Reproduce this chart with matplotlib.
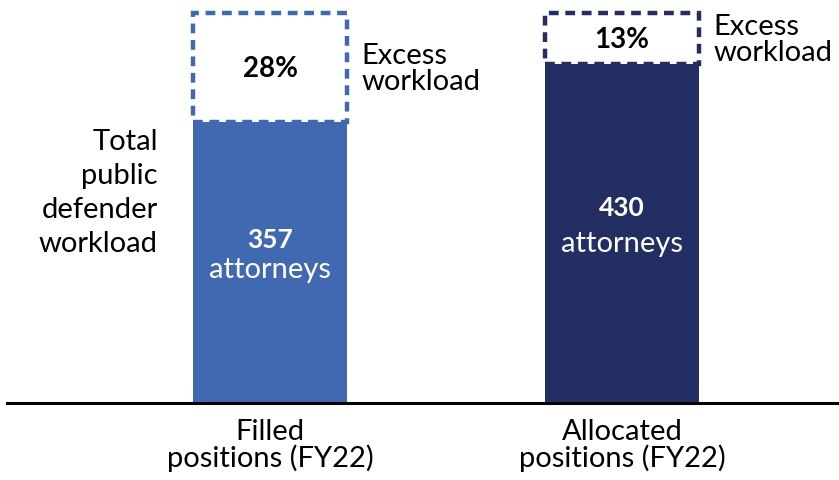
import matplotlib.pyplot as plt
from matplotlib.patches import Rectangle

# data
categories = ['Filled\npositions (FY22)', 'Allocated\npositions (FY22)']
attorneys = [357, 430]
excess_pct = ['28%', '13%']
total_workload = 495  # attorney-equivalents implied by the dashed boxes
colors = ['#4169B2', '#232F63']

plt.rcParams['font.family'] = ['Lato', 'DejaVu Sans']

fig = plt.figure(figsize=(8.39, 4.81), dpi=100)
ax = fig.add_axes([7 / 839, 77 / 481, 832 / 839, 404 / 481])

width = 0.4375
x = range(len(categories))

for i in x:
    # solid part: attorneys
    ax.bar(i, attorneys[i], width=width, color=colors[i], zorder=2)
    # dashed part: excess workload on top
    box = Rectangle((i - width / 2, attorneys[i]), width, total_workload - attorneys[i],
                    facecolor='none', edgecolor=colors[i], linewidth=3.2,
                    linestyle=(0, (2.2, 1.5)), zorder=3)
    ax.add_patch(box)
    mid = (attorneys[i] + total_workload) / 2
    ax.text(i, mid, excess_pct[i], ha='center', va='center', fontsize=20,
            fontweight='bold', color='black')
    ax.text(i + width / 2 + 0.04, mid, 'Excess\nworkload', ha='left', va='center',
            fontsize=21, linespacing=1.0, color='black')
    # inside-bar labels
    ax.text(i, attorneys[i] * 0.555, str(attorneys[i]), ha='center', va='baseline',
            fontsize=19, fontweight='bold', color='white')
    ax.text(i, attorneys[i] * 0.448, 'attorneys', ha='center', va='baseline',
            fontsize=21, color='white')

ax.text(-width / 2 - 0.1, 268, 'Total\npublic\ndefender\nworkload', ha='right',
        va='center', fontsize=21, linespacing=1.38, color='black')

ax.set_xlim(-0.747, 1.616)
ax.set_ylim(0, 513)
ax.set_xticks(list(x))
ax.set_xticklabels(categories, fontsize=21, linespacing=0.98)
ax.tick_params(axis='x', length=0, pad=11)
ax.set_yticks([])
for side in ['top', 'right', 'left']:
    ax.spines[side].set_visible(False)
ax.spines['bottom'].set_linewidth(2.2)
ax.spines['bottom'].set_zorder(4)

fig.savefig('out.png', dpi=100)
